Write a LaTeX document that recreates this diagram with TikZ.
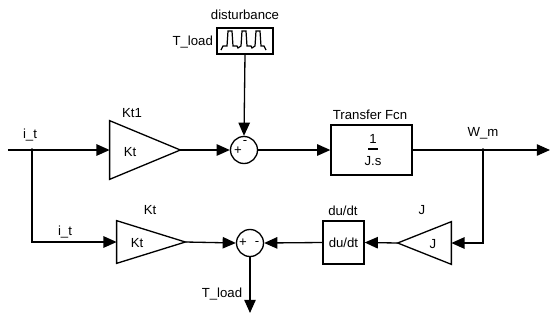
\documentclass[tikz,border=0pt]{standalone}
\usepackage{fontspec}
\setmainfont{Liberation Sans}
\usetikzlibrary{arrows.meta}
\tikzset{
  blk/.style={draw, line width=0.75pt, inner sep=0pt},
  gain/.style={inner sep=0pt},
  sumblk/.style={draw, circle, line width=0.75pt, minimum size=0.54cm, inner sep=0pt},
  wire/.style={line width=0.75pt},
  sig/.style={wire, -{Triangle[length=7.5pt,width=6.5pt]}},
}
\begin{document}
\begin{tikzpicture}[x=0.02cm, y=-0.02cm, font=\fontsize{7.5}{9}\selectfont]
  \useasboundingbox (0,0) rectangle (559,322);
  \node[blk, minimum width=1.12cm, minimum height=0.52cm] (dist) at (245,41) {};
  \node[gain, minimum width=1.4cm, minimum height=1.16cm] (kt1) at (145,150) {};
  \node[sumblk] (sum1) at (244,150) {};
  \node[blk, minimum width=1.62cm, minimum height=1.0cm] (tf) at (371.5,150) {};
  \node[gain, minimum width=1.06cm, minimum height=0.84cm] (jg) at (424.5,243) {};
  \node[blk, minimum width=0.82cm, minimum height=0.86cm] (dudt) at (343.5,242.5) {du/dt};
  \node[sumblk] (sum2) at (250,243) {};
  \node[gain, minimum width=1.36cm, minimum height=0.84cm] (kt2) at (151,242) {};
  \coordinate (in) at (8,150);
  \coordinate (it) at (32,150);
  \coordinate (wm) at (483,150);
  \coordinate (out) at (550,150);
  \coordinate (tl) at (250,313);
  % gains
  \draw[wire] (kt1.north west) -- (kt1.east) -- (kt1.south west) -- cycle;
  \draw[wire] (kt2.north west) -- (kt2.east) -- (kt2.south west) -- cycle;
  \draw[wire] (jg.north east) -- (jg.west) -- (jg.south east) -- cycle;
  % pulse train
  \draw[line width=0.7pt] (221,50) -- (223,46) -- (227,46) -- (228,31) -- (232,31) -- (233,46) -- (237,46) -- (238,48)
    -- (241,46) -- (242,31) -- (246,31) -- (247,46) -- (251,46) -- (252,48) -- (255,46) -- (256,31) -- (260,31)
    -- (261,46) -- (264,46) -- (266,50);
  \draw[wire] (368,149) -- (378,149);
  % labels
  \node (distlbl) at (245,15) {disturbance};
  \node[anchor=east, inner sep=1pt] (distin) at (215,42) {T\_load};
  \node (kt1lbl) at (132,113) {Kt1};
  \node (kt1txt) at (130,152) {Kt};
  \node (itlbl) at (30,135) {i\_t};
  \node (tflbl) at (370,115) {Transfer Fcn};
  \node (tfnum) at (373,139) {1};
  \node (tfden) at (373,161) {J.s};
  \node (wmlbl) at (483,133) {W\_m};
  \node (jlbl) at (422,210) {J};
  \node (jtxt) at (433,244) {J};
  \node (dudtlbl) at (343,211) {du/dt};
  \node (kt2lbl) at (150,210) {Kt};
  \node (kt2txt) at (137,243) {Kt};
  \node (it2lbl) at (65,232) {i\_t};
  \node (tllbl) at (222,294) {T\_load};
  \node (s1p) at (238,151) {+};
  \node (s1m) at (245,142) {-};
  \node (s2p) at (243,243) {+};
  \node (s2m) at (257,243) {-};
  % signals
  \draw[wire] (in) -- (it);
  \draw[sig] (it) -- (kt1.west);
  \draw[sig] (it) |- (kt2.west);
  \draw[sig] (kt1.east) -- (sum1.west);
  \draw[sig] (dist.south) -- (sum1.north);
  \draw[sig] (sum1.east) -- (tf.west);
  \draw[wire] (tf.east) -- (wm);
  \draw[sig] (wm) -- (out);
  \draw[sig] (wm) |- (jg.east);
  \draw[sig] (jg.west) -- (dudt.east);
  \draw[sig] (dudt.west) -- (sum2.east);
  \draw[sig] (kt2.east) -- (sum2.west);
  \draw[sig] (sum2.south) -- (tl);
  \fill (it) circle (1pt);
  \fill (wm) circle (1pt);
\end{tikzpicture}
\end{document}
